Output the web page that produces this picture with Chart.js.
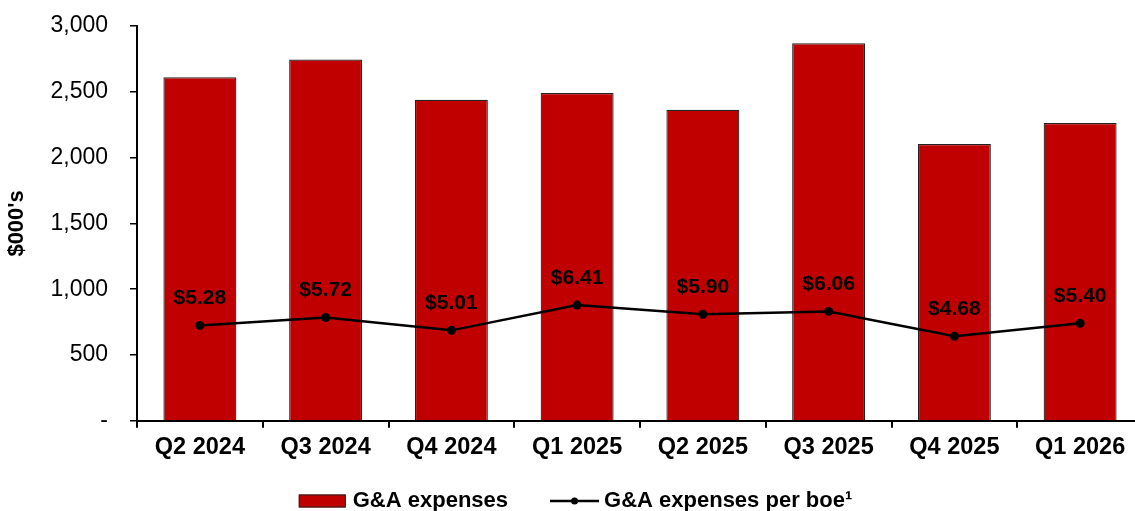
<!DOCTYPE html>
<html>
<head>
<meta charset="utf-8">
<script src="https://cdn.jsdelivr.net/npm/chart.js@4/dist/chart.umd.min.js"></script>
<style>
  html, body { margin: 0; padding: 0; background: #fff; overflow: hidden; }
  #wrap { position: relative; width: 1151px; height: 511px; }
</style>
</head>
<body>
<div id="wrap"><canvas id="c"></canvas></div>
<script>
const categories = ['Q2 2024', 'Q3 2024', 'Q4 2024', 'Q1 2025', 'Q2 2025', 'Q3 2025', 'Q4 2025', 'Q1 2026'];
const gaExpenses = [2610, 2745, 2440, 2491, 2364, 2869, 2103, 2263];
const gaPerBoe = [5.28, 5.72, 5.01, 6.41, 5.90, 6.06, 4.68, 5.40];
const seriesNames = ['G&A expenses', 'G&A expenses per boe\u00B9'];
const yTitle = "$000's";

const FONT = "'Liberation Sans', Arial, Helvetica, sans-serif";

const pointLabels = {
  id: 'pointLabels',
  afterDatasetsDraw(chart) {
    const ctx = chart.ctx;
    const meta = chart.getDatasetMeta(1);
    ctx.save();
    ctx.font = 'bold 21px ' + FONT;
    ctx.fillStyle = '#000';
    ctx.textAlign = 'center';
    ctx.textBaseline = 'middle';
    meta.data.forEach((pt, i) => {
      const v = chart.data.datasets[1].data[i];
      ctx.fillText('$' + v.toFixed(2), pt.x, pt.y - 27);
    });
    ctx.restore();
  }
};

const customLegend = {
  id: 'customLegend',
  afterDraw(chart) {
    const ctx = chart.ctx;
    const ds = chart.data.datasets;
    ctx.save();
    ctx.font = 'bold 22px ' + FONT;
    const t1 = ds[0].label, t2 = ds[1].label;
    const w1 = ctx.measureText(t1).width, w2 = ctx.measureText(t2).width;
    const boxW = 47, boxH = 13, lineW = 49;
    const total = boxW + 7 + w1 + 42 + lineW + 5 + w2;
    let x = chart.width / 2 - total / 2;
    const y = 501;
    ctx.fillStyle = ds[0].backgroundColor;
    ctx.fillRect(x, y - boxH / 2, boxW, boxH);
    ctx.strokeStyle = '#222';
    ctx.lineWidth = 1;
    ctx.strokeRect(x + 0.5, y - boxH / 2 + 0.5, boxW - 1, boxH - 1);
    x += boxW + 7;
    ctx.fillStyle = '#000';
    ctx.textAlign = 'left';
    ctx.textBaseline = 'middle';
    ctx.fillText(t1, x, y);
    x += w1 + 42;
    ctx.strokeStyle = '#000';
    ctx.lineWidth = 2.5;
    ctx.beginPath();
    ctx.moveTo(x, y);
    ctx.lineTo(x + lineW, y);
    ctx.stroke();
    ctx.beginPath();
    ctx.arc(x + lineW / 2, y, 3.5, 0, Math.PI * 2);
    ctx.fillStyle = '#000';
    ctx.fill();
    x += lineW + 5;
    ctx.fillText(t2, x, y);
    ctx.restore();
  }
};

new Chart(document.getElementById('c'), {
  type: 'bar',
  data: {
    labels: categories,
    datasets: [
      {
        type: 'bar',
        label: seriesNames[0],
        data: gaExpenses,
        backgroundColor: '#C00000',
        borderColor: '#222222',
        borderWidth: 1.2,
        barPercentage: 0.58,
        categoryPercentage: 1.0,
        yAxisID: 'y',
        order: 2
      },
      {
        type: 'line',
        label: seriesNames[1],
        data: gaPerBoe,
        borderColor: '#000',
        backgroundColor: '#000',
        borderWidth: 2.5,
        pointRadius: 4.5,
        pointBackgroundColor: '#000',
        pointBorderWidth: 0,
        tension: 0,
        yAxisID: 'y1',
        order: 1
      }
    ]
  },
  options: {
    responsive: true,
    maintainAspectRatio: false,
    devicePixelRatio: 1,
    animation: false,
    layout: { padding: { top: 26, right: 8, bottom: 43, left: 0 } },
    plugins: {
      legend: { display: false },
      tooltip: { enabled: false }
    },
    scales: {
      x: {
        offset: true,
        grid: {
          offset: true,
          drawOnChartArea: false,
          drawTicks: true,
          tickLength: 7,
          color: '#000',
          lineWidth: 2
        },
        border: { display: true, color: '#000', width: 2 },
        ticks: {
          color: '#000',
          font: { family: FONT, size: 23.5, weight: 'bold' },
          padding: 6,
          maxRotation: 0,
          autoSkip: false
        }
      },
      y: {
        min: 0,
        max: 3000,
        position: 'left',
        afterFit(scale) {
          scale.width = 137;
          scale.paddingTop = 0;
          scale.paddingBottom = 0;
        },
        grid: {
          drawOnChartArea: false,
          drawTicks: true,
          tickLength: 7,
          color: '#000',
          lineWidth: 1.5
        },
        border: { display: true, color: '#000', width: 2 },
        ticks: {
          stepSize: 500,
          color: '#000',
          padding: 22,
          font: { family: FONT, size: 23 },
          callback: (v) => v === 0 ? '-' : v.toLocaleString('en-US')
        },
        title: {
          display: true,
          text: yTitle,
          color: '#000',
          font: { family: FONT, size: 22, weight: 'bold' },
          padding: { top: 4, bottom: 0 }
        }
      },
      y1: {
        display: false,
        min: 0,
        max: 21.87,
        position: 'right'
      }
    }
  },
  plugins: [pointLabels, customLegend]
});
</script>
</body>
</html>
